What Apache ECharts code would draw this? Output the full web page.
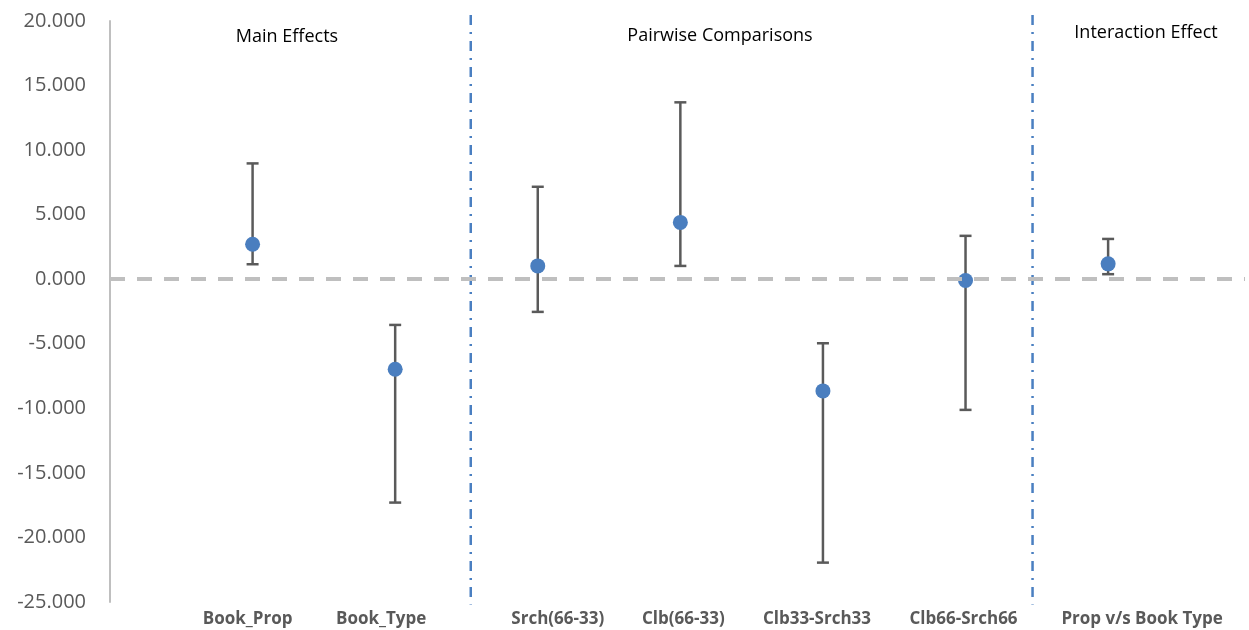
<!DOCTYPE html>
<html>
<head>
<meta charset="utf-8">
<script src="https://cdn.jsdelivr.net/npm/echarts@6/dist/echarts.min.js"></script>
<style>
html,body{margin:0;padding:0;background:#fff;}
#chart{width:1249px;height:630px;}
</style>
</head>
<body>
<div id="chart"></div>
<script>
// ---- data ----
const categories = ['Book_Prop', 'Book_Type', 'Srch(66-33)', 'Clb(66-33)', 'Clb33-Srch33', 'Clb66-Srch66', 'Prop v/s Book Type'];
const estimates  = [2.71, -6.97, 1.03, 4.40, -8.65, -0.10, 1.19];
const lowerCI    = [1.16, -17.30, -2.53, 1.03, -21.95, -10.12, 0.39];
const upperCI    = [8.97, -3.54, 7.16, 13.70, -4.96, 3.36, 3.12];
const sections   = ['Main Effects', 'Pairwise Comparisons', 'Interaction Effect'];
const dividers   = [2.53, 6.47];   // section separators, between category slots
const yTicks     = [-25, -20, -15, -10, -5, 0, 5, 10, 15, 20];

// ---- chart ----
const chart = echarts.init(document.getElementById('chart'));
const labelShift = [-5, -14, 20, 3, -6, -2, 34];
const rich = {};
labelShift.forEach((d, i) => {
  rich['r' + i] = {
    fontFamily: 'Open Sans', fontWeight: 'bold', fontSize: 17, color: '#595959',
    padding: d >= 0 ? [0, 0, 0, 2 * d] : [0, -2 * d, 0, 0]
  };
});

const points = categories.map((c, i) => [i + 1, estimates[i]]);
const bars = categories.map((c, i) => [i + 1, lowerCI[i], upperCI[i]]);
const titleFont = '18px "Open Sans"';

chart.setOption({
  animation: false,
  grid: { left: 110, right: 4, top: 21, bottom: 28, containLabel: false },
  xAxis: {
    type: 'value', min: 0, max: 7.96, interval: 1,
    axisLine: { show: false }, axisTick: { show: false }, splitLine: { show: false },
    axisLabel: {
      showMaxLabel: false, margin: 9,
      formatter: v => (v >= 1 && v <= categories.length && Number.isInteger(v)) ? '{r' + (v - 1) + '|' + categories[v - 1] + '}' : '',
      rich: rich
    }
  },
  yAxis: {
    type: 'value', min: yTicks[0], max: yTicks[yTicks.length - 1], interval: 5,
    axisLine: { show: true, lineStyle: { color: '#bfbfbf', width: 2 } },
    axisTick: { show: false }, splitLine: { show: false },
    axisLabel: {
      formatter: v => v.toFixed(3), color: '#595959', fontSize: 20, fontFamily: 'Open Sans', margin: 24
    }
  },
  graphic: [
    { type: 'text', x: 287, y: 37, style: { text: sections[0], font: titleFont, fill: '#000', align: 'center', verticalAlign: 'middle' } },
    { type: 'text', x: 720, y: 36, style: { text: sections[1], font: titleFont, fill: '#000', align: 'center', verticalAlign: 'middle' } },
    { type: 'text', x: 1146, y: 33, style: { text: sections[2], font: titleFont, fill: '#000', align: 'center', verticalAlign: 'middle' } }
  ],
  series: [
    {
      type: 'custom', clip: false, z: 1, silent: true,
      data: dividers.map(d => [d]),
      renderItem: (params, api) => {
        const top = api.coord([api.value(0), 20.47]);
        const bot = api.coord([api.value(0), -25.2]);
        return {
          type: 'line',
          shape: { x1: top[0], y1: top[1], x2: bot[0], y2: bot[1] },
          style: { stroke: '#4a7fc1', lineWidth: 2.5, lineDash: [10, 7, 2, 7] }
        };
      }
    },
    {
      type: 'custom', clip: false, z: 2,
      data: bars,
      renderItem: (params, api) => {
        const x = api.value(0);
        const lo = api.coord([x, api.value(1)]);
        const hi = api.coord([x, api.value(2)]);
        const cw = 6;
        const st = { stroke: '#5a5a5a', lineWidth: 2.5 };
        return {
          type: 'group',
          children: [
            { type: 'line', shape: { x1: lo[0], y1: lo[1], x2: hi[0], y2: hi[1] }, style: st },
            { type: 'line', shape: { x1: lo[0] - cw, y1: lo[1], x2: lo[0] + cw, y2: lo[1] }, style: st },
            { type: 'line', shape: { x1: hi[0] - cw, y1: hi[1], x2: hi[0] + cw, y2: hi[1] }, style: st }
          ]
        };
      }
    },
    {
      type: 'scatter', z: 3,
      data: points, symbolSize: 15,
      itemStyle: { color: '#4a7ebf', opacity: 1 },
      markLine: {
        silent: true, symbol: 'none', label: { show: false },
        lineStyle: { color: '#bfbfbf', width: 4, type: [15, 12] },
        data: [{ yAxis: 0 }]
      }
    }
  ]
});
</script>
</body>
</html>
